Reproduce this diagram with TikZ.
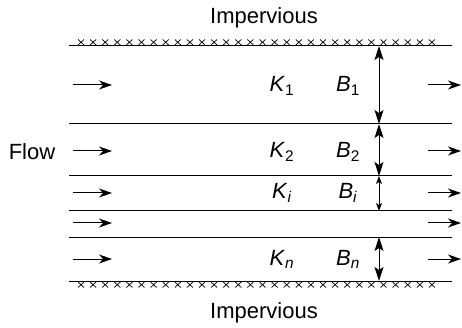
\documentclass[tikz,border=0pt]{standalone}
\usepackage{fontspec}
\setmainfont{Liberation Sans}
\usetikzlibrary{arrows.meta}
\tikzset{
  lbl/.style={font=\fontsize{22}{26}\selectfont, inner sep=0pt},
  layer/.style={line width=1pt},
  flowarrow/.style={line width=1pt, -{Stealth[length=13pt,width=9pt,inset=4pt]}},
  thick arrow/.style={line width=1pt, {Stealth[length=14pt,width=9pt,inset=3pt]}-{Stealth[length=14pt,width=9pt,inset=3pt]}},
  thin arrow/.style={line width=0.8pt, {Stealth[length=8pt,width=6pt,inset=2pt]}-{Stealth[length=8pt,width=6pt,inset=2pt]}},
  xmark/.style={line width=0.7pt}
}
\begin{document}
\begin{tikzpicture}[x=1pt,y=-1pt]
\useasboundingbox (0,0) rectangle (462,328);
% layer boundaries
\foreach \n/\y in {a/46,b/124,c/176,d/211,e/237,f/281}{
  \coordinate (\n L) at (69,\y);
  \coordinate (\n R) at (452,\y);
  \coordinate (\n B) at (379,\y);
  \draw[layer] (\n L) -- (\n R);
}
% impervious crosses
\foreach \k in {0,...,29}{
  \draw[xmark] ({81+12.1*\k-3},39.5) -- ({81+12.1*\k+3},45)
               ({81+12.1*\k-3},45) -- ({81+12.1*\k+3},39.5);
  \draw[xmark] ({81+12.1*\k-3},282) -- ({81+12.1*\k+3},287.5)
               ({81+12.1*\k-3},287.5) -- ({81+12.1*\k+3},282);
}
\node[lbl] (imp1) at (264,18) {Impervious};
\node[lbl] (imp2) at (264,313) {Impervious};
\node[lbl] (flow) at (32,152) {Flow};
% flow arrows
\foreach \r/\y in {1/85,2/151,3/193,4/223,5/259}{
  \coordinate (l\r s) at (73,\y);
  \coordinate (l\r e) at (112,\y);
  \coordinate (r\r s) at (428,\y);
  \coordinate (r\r e) at (461,\y);
  \draw[flowarrow] (l\r s) -- (l\r e);
  \draw[flowarrow] (r\r s) -- (r\r e);
}
% labels
\node[lbl] (k1) at (282,86) {\textit{K}\textsubscript{1}};
\node[lbl] (k2) at (282,152) {\textit{K}\textsubscript{2}};
\node[lbl] (ki) at (282,193) {\textit{K}\textsubscript{\textit{i}}};
\node[lbl] (kn) at (282,259) {\textit{K}\textsubscript{\textit{n}}};
\node[lbl] (b1) at (348,86) {\textit{B}\textsubscript{1}};
\node[lbl] (b2) at (348,152) {\textit{B}\textsubscript{2}};
\node[lbl] (bi) at (348,193) {\textit{B}\textsubscript{\textit{i}}};
\node[lbl] (bn) at (348,259) {\textit{B}\textsubscript{\textit{n}}};
% thickness arrows
\draw[thick arrow] (aB) -- (bB);
\draw[thick arrow] (bB) -- (cB);
\draw[thin arrow] (cB) -- (dB);
\draw[thick arrow] (eB) -- (fB);
\end{tikzpicture}
\end{document}
